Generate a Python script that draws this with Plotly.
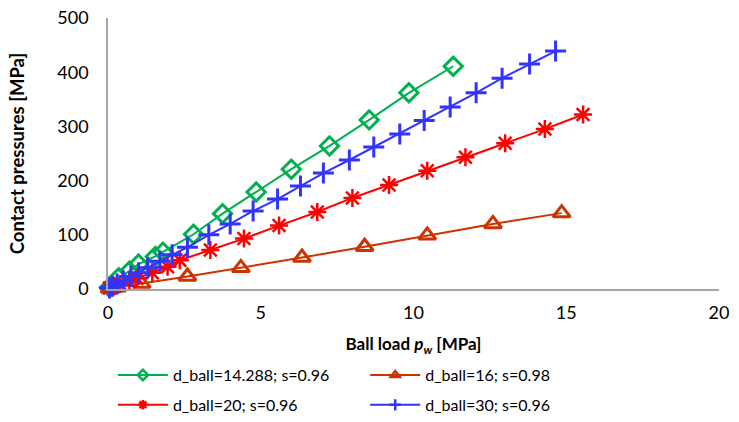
import plotly.graph_objects as go

# Data
green_x = [0.05, 0.35, 0.7, 1.0, 1.55, 1.8, 2.8, 3.75, 4.85, 6.0, 7.25, 8.55, 9.85, 11.3]
green_y = [3, 21, 33, 46, 60, 68, 101, 139, 179, 221, 264, 312, 362, 411]

orange_x = [0.05, 0.3, 1.1, 2.6, 4.35, 6.35, 8.4, 10.45, 12.6, 14.85]
orange_y = [1, 3, 10, 23, 39, 58, 78, 99, 120, 140]

red_x = [0.05, 0.2, 0.4, 0.7, 0.95, 1.45, 1.95, 2.35, 3.35, 4.45, 5.6, 6.85, 8.0, 9.2, 10.45, 11.7, 13.0, 14.3, 15.55]
red_y = [2, 5, 9, 14, 20, 30, 41, 53, 72, 93, 117, 142, 168, 192, 218, 243, 269, 295, 322]

blue_x = [0.05, 0.15, 0.3, 0.5, 0.75, 1.0, 1.3, 1.7, 2.1, 2.6, 3.3, 4.0, 4.75, 5.55, 6.3,
          7.05, 7.9, 8.7, 9.55, 10.35, 11.2, 12.05, 12.9, 13.8, 14.65]
blue_y = [2, 5, 9, 15, 23, 30, 39, 51, 63, 77, 100, 120, 144, 166, 190,
          214, 238, 262, 286, 311, 336, 362, 389, 415, 439]

names = ["d_ball=14.288; s=0.96", "d_ball=16; s=0.98", "d_ball=20; s=0.96", "d_ball=30; s=0.96"]
colors = ["#00B050", "#CC3300", "#FF0000", "#3333FF"]
symbols = ["diamond-open", "triangle-up-open", "asterisk-open", "cross-thin-open"]
sizes = [14, 15, 15, 15]
widths = [3, 3, 2.5, 3]
legend_ids = ["legend", "legend2", "legend", "legend2"]
xs = [green_x, orange_x, red_x, blue_x]
ys = [green_y, orange_y, red_y, blue_y]

fig = go.Figure()
for x, y, n, c, s, sz, w in zip(xs, ys, names, colors, symbols, sizes, widths):
    fig.add_trace(go.Scatter(
        x=x, y=y, name=n, mode="lines+markers",
        line=dict(color=c, width=2),
        marker=dict(symbol=s, size=sz, color=c, line=dict(color=c, width=w)),
        cliponaxis=False, showlegend=False,
    ))
# legend entries with smaller sample markers (as in the reference legend)
for n, c, s, lg in zip(names, colors, symbols, legend_ids):
    fig.add_trace(go.Scatter(
        x=[None], y=[None], name=n, mode="lines+markers", legend=lg,
        legendgroup=n,
        line=dict(color=c, width=2),
        marker=dict(symbol=s, size=8, color=c, line=dict(color=c, width=2.5)),
        showlegend=True,
    ))

font_family = "Lato, 'Open Sans', sans-serif"
leg_common = dict(orientation="v", xanchor="left", y=-0.255, yanchor="top",
                  font=dict(size=16), tracegroupgap=6, itemwidth=50,
                  bgcolor="rgba(0,0,0,0)")
fig.update_layout(
    width=739, height=422,
    margin=dict(l=108, r=20, t=18, b=133, autoexpand=False),
    paper_bgcolor="white", plot_bgcolor="white",
    font=dict(family=font_family, size=18, color="#000000"),
    showlegend=True,
    legend=dict(x=0.008, **leg_common),
    legend2=dict(x=0.421, **leg_common),
    xaxis=dict(
        range=[0, 20], dtick=5, showgrid=False, zeroline=False,
        showline=True, linecolor="#A6A6A6", linewidth=1.5,
        ticks="", ticklabelstandoff=7,
        title=dict(text="<b>Ball load <i>p<sub>w</sub></i> [MPa]</b>", standoff=16,
                   font=dict(size=17)),
    ),
    yaxis=dict(
        range=[0, 500], dtick=100, showgrid=False, zeroline=False,
        showline=True, linecolor="#A6A6A6", linewidth=1.5,
        ticks="", ticklabelstandoff=14,
        title=dict(text="<b>Contact pressures [MPa]</b>", standoff=28,
                   font=dict(size=18.5)),
    ),
)

fig.write_html("out.html")
